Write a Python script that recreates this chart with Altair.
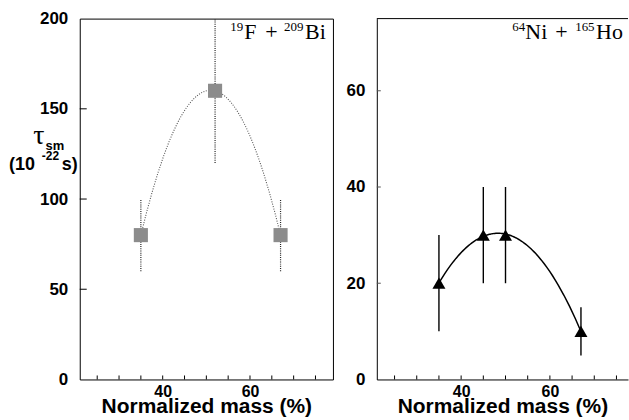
import altair as alt
import pandas as pd

# ---------------- data ----------------
left_mass = [35, 52, 67]
left_tau = [80, 160, 80]
left_err_lo = [60, 120, 60]
left_err_hi = [100, 200, 100]

right_mass = [35, 45, 50, 67]
right_tau = [20, 30, 30, 10]
right_err_lo = [10, 20, 20, 5]
right_err_hi = [30, 40, 40, 15]

x_tick_values = [25, 30, 35, 40, 45, 50, 55, 60, 65, 70, 75]
x_label_values = [40, 60]
left_y_ticks = [0, 50, 100, 150, 200]
right_y_ticks = [0, 20, 40, 60]

LW, RW, H = 254, 252, 362
SANS = "Liberation Sans"
SERIF = "Liberation Serif"

left_df = pd.DataFrame({"mass": left_mass, "tau": left_tau, "lo": left_err_lo, "hi": left_err_hi})
right_df = pd.DataFrame({"mass": right_mass, "tau": right_tau, "lo": right_err_lo, "hi": right_err_hi})
xt_df = pd.DataFrame({"mass": x_tick_values})


def x_axis(domain):
    return alt.Axis(values=x_label_values, title="Normalized mass (%)", ticks=False,
                    domain=domain, domainColor="black", grid=False,
                    labelFont=SANS, labelFontWeight="bold", labelFontSize=16,
                    labelColor="black", labelPadding=4,
                    titleFont=SANS, titleFontWeight="bold", titleFontSize=21,
                    titleColor="black", titlePadding=-4)


def y_axis(values, domain):
    return alt.Axis(values=values, title=None, ticks=False, domain=domain,
                    domainColor="black", grid=False,
                    labelFont=SANS, labelFontWeight="bold", labelFontSize=17,
                    labelColor="black", labelPadding=12)


def label(txt, x, y, size, font, weight="normal", align="left"):
    return alt.Chart(pd.DataFrame({"t": [txt]})).mark_text(
        align=align, baseline="alphabetic", fontSize=size, font=font,
        fontWeight=weight, color="black"
    ).encode(text="t:N", x=alt.value(x), y=alt.value(y))


def panel(df, xs, ys, xax, yax, y_tick_vals, ytick_len, ytick_color,
          err_style, curve_style, point_mark):
    X = alt.X("mass:Q", scale=xs, axis=xax, title="Normalized mass (%)")
    base = alt.Chart(df)
    err = base.mark_rule(**err_style).encode(
        x=X, y=alt.Y("lo:Q", scale=ys, axis=yax, title=None), y2="hi:Q")
    curve = base.transform_regression(
        "mass", "tau", method="poly", order=2, extent=[35, 67]
    ).mark_line(**curve_style).encode(
        x=X, y=alt.Y("tau:Q", scale=ys, axis=yax, title=None))
    pts = point_mark(base).encode(
        x=X, y=alt.Y("tau:Q", scale=ys, axis=yax, title=None))
    xticks = alt.Chart(xt_df).mark_rule(color="black", strokeWidth=1).encode(
        x=X, y=alt.value(H), y2=alt.value(H - 4))
    yticks = alt.Chart(pd.DataFrame({"tau": y_tick_vals})).mark_rule(
        color=ytick_color, strokeWidth=1).encode(
        y=alt.Y("tau:Q", scale=ys, axis=yax, title=None),
        x=alt.value(0), x2=alt.value(ytick_len))
    return [err, curve, pts, xticks, yticks]


# ---------------- left panel ----------------
xsL = alt.Scale(domain=[21, 79], nice=False, zero=False)
ysL = alt.Scale(domain=[0, 200], nice=False)

layersL = panel(
    left_df, xsL, ysL, x_axis(False), y_axis(left_y_ticks, False),
    left_y_ticks[1:-1], 7, "black",
    dict(color="#222222", strokeWidth=1.2, strokeDash=[1, 1.2]),
    dict(color="#555555", strokeWidth=1.1, strokeDash=[1, 1.5]),
    lambda b: b.mark_square(size=200, color="#8c8c8c", opacity=1),
)

annL = [
    label("19", 151, 12, 13, SERIF),
    label("F", 165, 20, 22, SERIF),
    label("+", 186, 20, 22, SERIF),
    label("209", 205, 12, 13, SERIF),
    label("Bi", 226, 20, 22, SERIF),
]
ylab = [
    label("τ", -41, 126, 28, SERIF, align="center"),
    label("sm", -25, 132, 13, SANS, "bold", "center"),
    label("(10", -71, 152, 18, SANS, "bold"),
    label("-22", -38, 142, 12, SANS, "bold"),
    label("s)", -2, 152, 18, SANS, "bold", "right"),
]

left = alt.layer(*layersL, *annL, *ylab).properties(
    width=LW, height=H, view=alt.ViewBackground(stroke="black", strokeWidth=1)
)

# ---------------- right panel ----------------
xsR = alt.Scale(domain=[21, 77.6], nice=False, zero=False)
ysR = alt.Scale(domain=[0, 75], nice=False)

layersR = panel(
    right_df, xsR, ysR, x_axis(True), y_axis(right_y_ticks, True),
    right_y_ticks[1:], 4, "#555555",
    dict(color="black", strokeWidth=1.4),
    dict(color="black", strokeWidth=1.5),
    lambda b: b.mark_point(shape="triangle-up", filled=True, size=170, color="black", opacity=1),
)
topR = alt.Chart(pd.DataFrame({"v": [0]})).mark_rule(color="black", strokeWidth=1).encode(
    x=alt.value(0), x2=alt.value(RW), y=alt.value(0)
)
annR = [
    label("64", 136, 12, 13, SERIF),
    label("Ni", 149, 20, 22, SERIF),
    label("+", 179, 20, 22, SERIF),
    label("165", 199, 12, 13, SERIF),
    label("Ho", 220, 20, 22, SERIF),
]

right = alt.layer(*layersR, topR, *annR).properties(
    width=RW, height=H, view=alt.ViewBackground(stroke="transparent")
)

chart = alt.hconcat(left, right, spacing=11).properties(
    padding={"left": 8, "top": 8, "right": 0, "bottom": 0}
).configure_view(stroke="transparent")

chart.save("out.html", embed_options={"renderer": "svg", "actions": False})
